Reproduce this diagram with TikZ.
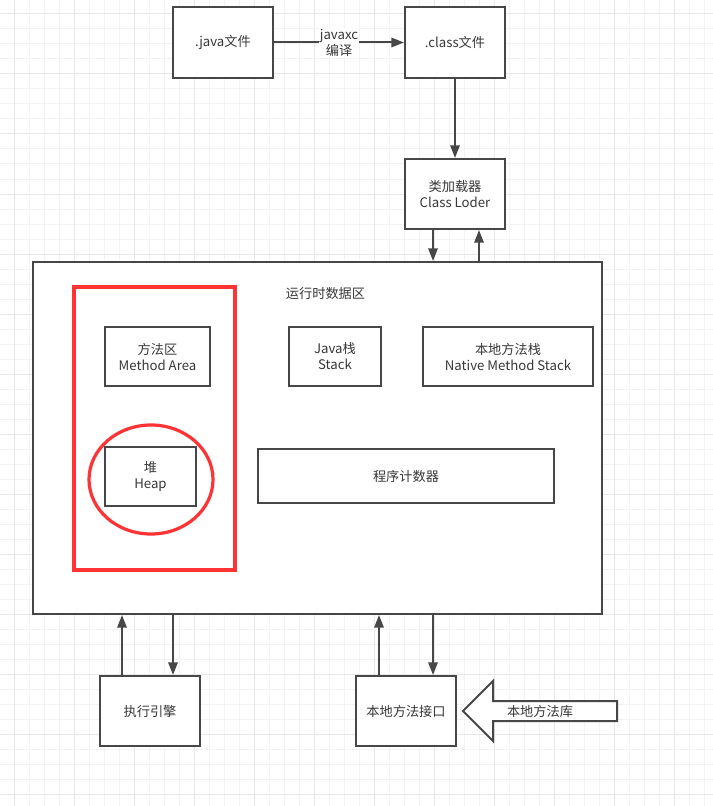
\documentclass[tikz,border=0pt]{standalone}
\usepackage{fontspec}
\newfontfamily\cjk{Noto Sans CJK SC}
\usetikzlibrary{arrows.meta,shapes.geometric}
\definecolor{lineC}{HTML}{474747}
\definecolor{textC}{HTML}{383838}
\definecolor{redC}{HTML}{FF3333}
\definecolor{gridMinor}{HTML}{F3F3F3}
\definecolor{gridMajor}{HTML}{E8E8E8}
\tikzset{
  txt/.style={font=\cjk\fontsize{9.9}{12}\selectfont, text=textC, align=center},
  box/.style={txt, draw=lineC, line width=1.5pt, fill=white, inner sep=0pt},
  redbox/.style={draw=redC, line width=2.4pt, inner sep=0pt},
  arr/.style={draw=lineC, line width=1.5pt, -{Triangle[length=9.5pt,width=7pt]}},
  lbl/.style={txt, fill=white, inner sep=1pt},
}
\begin{document}
\begin{tikzpicture}[x=0.75pt,y=-0.75pt]
\useasboundingbox (0,0) rectangle (713,806);
\fill[white] (0,0) rectangle (713,806);
% grid
\foreach \v in {14,29,...,713} {
  \draw[gridMinor, line width=0.75pt] (\v,0) -- (\v,806);
}
\foreach \v in {14,29,...,806} {
  \draw[gridMinor, line width=0.75pt] (0,\v) -- (713,\v);
}
\foreach \v in {14,74,...,713} {
  \draw[gridMajor, line width=0.75pt] (\v,0) -- (\v,806);
}
\foreach \v in {14,74,...,806} {
  \draw[gridMajor, line width=0.75pt] (0,\v) -- (713,\v);
}

% top
\node[box, minimum width=75pt, minimum height=53.25pt] (java) at (223,42.5) {.java文件};
\node[box, minimum width=75pt, minimum height=53.25pt] (class) at (455,42.5) {.class文件};
\node[box, minimum width=75pt, minimum height=52.5pt] (loader) at (455,194) {类加载器\\Class Loder};

% runtime area
\node[box, minimum width=426.75pt, minimum height=264pt] (runtime) at (317.5,438) {};
\node[txt] (title) at (325.5,294) {运行时数据区};
\node[redbox, minimum width=120.75pt, minimum height=212.25pt] (redrect) at (154.5,428.5) {};
\node[box, minimum width=78.75pt, minimum height=44.25pt] (method) at (157.5,356.5) {方法区\\Method Area};
\node[box, minimum width=69pt, minimum height=44.25pt] (jstack) at (335,356.5) {Java栈\\Stack};
\node[box, minimum width=127.5pt, minimum height=44.25pt] (nstack) at (508,356.5) {本地方法栈\\Native Method Stack};
\node[box, minimum width=68.25pt, minimum height=44.25pt] (heap) at (150.5,476.5) {堆\\Heap};
\node[redbox, ellipse, minimum width=93pt, minimum height=81.75pt] (heapring) at (151,479.5) {};
\node[box, minimum width=222pt, minimum height=40.5pt] (pc) at (406,476) {程序计数器};

% bottom
\node[box, minimum width=75pt, minimum height=52.5pt] (exec) at (150,711) {执行引擎};
\node[box, minimum width=75pt, minimum height=52.5pt] (nif) at (406,711) {本地方法接口};

% hollow arrow
\draw[draw=lineC, fill=white, line width=1.5pt, line join=miter]
  (617,701) -- (493,701) -- (493,681) -- (463,711) -- (493,741) -- (493,721) -- (617,721) -- cycle;
\node[txt] (lib) at (540,711) {本地方法库};

% connectors
\draw[arr] (java.east) -- node[lbl] {javaxc\\编译} (class.west);
\draw[arr] (class.south) -- (loader.north);
\draw[arr] ([xshift=-16.5pt]loader.south) -- ([xshift=-16.5pt]loader.south |- runtime.north);
\draw[arr] ([xshift=18pt]loader.south |- runtime.north) -- ([xshift=18pt]loader.south);
\draw[arr] ([xshift=-21pt]exec.north) -- ([xshift=-21pt]exec.north |- runtime.south);
\draw[arr] ([xshift=17.25pt]exec.north |- runtime.south) -- ([xshift=17.25pt]exec.north);
\draw[arr] ([xshift=-20.25pt]nif.north) -- ([xshift=-20.25pt]nif.north |- runtime.south);
\draw[arr] ([xshift=20.25pt]nif.north |- runtime.south) -- ([xshift=20.25pt]nif.north);
\end{tikzpicture}
\end{document}
